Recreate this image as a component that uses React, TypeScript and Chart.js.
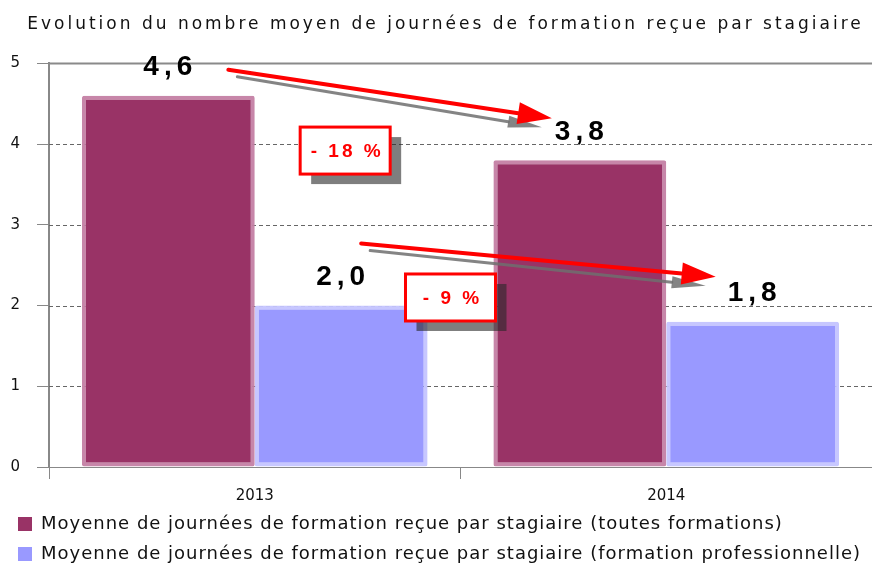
import React, { useEffect, useRef } from "react";
import { Chart, registerables } from "chart.js";

Chart.register(...registerables);

const TITLE = "Evolution du nombre moyen de journées de formation reçue par stagiaire";
const YEARS = ["2013", "2014"];
const SERIES_NAMES = [
  "Moyenne de journées de formation reçue par stagiaire (toutes formations)",
  "Moyenne de journées de formation reçue par stagiaire (formation professionnelle)",
];
const ALL_TRAINING = [4.6, 3.8];
const PRO_TRAINING = [2.0, 1.8];
const CHANGE_LABELS = ["- 18 %", "- 9 %"];
const Y_TICKS = [0, 1, 2, 3, 4, 5];

const FONT = "'DejaVu Sans', Verdana, sans-serif";
const BOLD = "'Liberation Sans', Arial, sans-serif";

const fmt = (v: number) => v.toFixed(1).replace(".", ",");

function drawArrow(
  ctx: CanvasRenderingContext2D,
  x1: number,
  y1: number,
  x2: number,
  y2: number,
  color: string,
  headW = 11,
  lw = 4
) {
  const ang = Math.atan2(y2 - y1, x2 - x1);
  const headLen = 34;
  const bx = x2 - headLen * Math.cos(ang);
  const by = y2 - headLen * Math.sin(ang);
  ctx.strokeStyle = color;
  ctx.fillStyle = color;
  ctx.lineWidth = lw;
  ctx.lineCap = "round";
  ctx.beginPath();
  ctx.moveTo(x1, y1);
  ctx.lineTo(bx, by);
  ctx.stroke();
  ctx.beginPath();
  ctx.moveTo(x2, y2);
  ctx.lineTo(bx + headW * Math.sin(ang), by - headW * Math.cos(ang));
  ctx.lineTo(bx - headW * Math.sin(ang), by + headW * Math.cos(ang));
  ctx.closePath();
  ctx.fill();
}

const annotPlugin = {
  id: "annot",
  beforeDatasetsDraw(chart: any) {
    const { ctx, chartArea, scales } = chart;
    const y = scales.y;
    ctx.save();
    y.ticks.forEach((t: any) => {
      if (t.value === 0) return;
      const py = Math.round(y.getPixelForValue(t.value)) + 0.5;
      const top = t.value === y.max;
      ctx.beginPath();
      ctx.lineWidth = top ? 2 : 1;
      ctx.strokeStyle = top ? "#8a8a8a" : "#666";
      ctx.setLineDash(top ? [] : [4, 3]);
      ctx.moveTo(chartArea.left, py);
      ctx.lineTo(chartArea.right, py);
      ctx.stroke();
    });
    ctx.restore();
  },
  afterDatasetsDraw(chart: any) {
    const { ctx, scales } = chart;
    const x = scales.x;
    const y = scales.y;
    ctx.save();
    const labelPos: { x: number; y: number }[][] = [];
    chart.data.datasets.forEach((ds: any, i: number) => {
      const meta = chart.getDatasetMeta(i);
      labelPos[i] = [];
      meta.data.forEach((bar: any, j: number) => {
        labelPos[i][j] = { x: bar.x, y: bar.y - 28 };
      });
    });
    const arrows = [
      { s: 0, a: [60, 2], b: [-28, -14] },
      { s: 1, a: [20, -34], b: [-37, -17] },
    ];
    arrows.forEach((ar) => {
      const p = labelPos[ar.s][0];
      const q = labelPos[ar.s][1];
      const x1 = p.x + ar.a[0], y1 = p.y + ar.a[1];
      const x2 = q.x + ar.b[0], y2 = q.y + ar.b[1];
      drawArrow(ctx, x1 + 9, y1 + 7, x2 - 10, y2 + 9, "rgba(110,110,110,0.85)", 6, 3);
      drawArrow(ctx, x1, y1, x2, y2, "#ff0000");
    });
    ctx.font = `bold 28px ${BOLD}`;
    (ctx as any).letterSpacing = "5px";
    ctx.textAlign = "center";
    ctx.textBaseline = "middle";
    ctx.fillStyle = "#000";
    chart.data.datasets.forEach((ds: any, i: number) => {
      ds.data.forEach((v: number, j: number) => {
        const p = labelPos[i][j];
        ctx.fillText(fmt(v), p.x + 2, p.y);
      });
    });
    const m0 = chart.getDatasetMeta(1).data[0];
    const boxes = [
      { text: CHANGE_LABELS[0], cx: m0.x + 4, cy: y.getPixelForValue(3.92) },
      { text: CHANGE_LABELS[1], cx: (x.getPixelForValue(0) + x.getPixelForValue(1)) / 2 - 10, cy: y.getPixelForValue(2.1) },
    ];
    ctx.font = `bold 19px ${BOLD}`;
    (ctx as any).letterSpacing = "3px";
    boxes.forEach((b) => {
      const w = 90;
      const h = 47;
      const lx = b.cx - w / 2;
      const ty = b.cy - h / 2;
      ctx.fillStyle = "rgba(40,40,40,0.6)";
      ctx.fillRect(lx + 11, ty + 10, w, h);
      ctx.fillStyle = "#fff";
      ctx.fillRect(lx, ty, w, h);
      ctx.strokeStyle = "#ff0000";
      ctx.lineWidth = 3;
      ctx.strokeRect(lx, ty, w, h);
      ctx.fillStyle = "#ff0000";
      ctx.fillText(b.text, b.cx + 2, b.cy + 1);
    });
    ctx.restore();
  },
};

export default function App() {
  const ref = useRef<HTMLCanvasElement | null>(null);
  useEffect(() => {
    if (!ref.current) return;
    const chart: any = new Chart(ref.current, {
      type: "bar",
      data: {
        labels: YEARS,
        datasets: [
          {
            label: SERIES_NAMES[0],
            data: ALL_TRAINING,
            backgroundColor: "#993366",
            borderColor: "rgba(196,128,164,0.95)",
            borderWidth: 4,
            borderSkipped: false,
            borderRadius: 2,
            categoryPercentage: 0.84,
            barPercentage: 1.0,
          },
          {
            label: SERIES_NAMES[1],
            data: PRO_TRAINING,
            backgroundColor: "#9999ff",
            borderColor: "rgba(196,196,255,0.95)",
            borderWidth: 4,
            borderSkipped: false,
            borderRadius: 2,
            categoryPercentage: 0.84,
            barPercentage: 1.0,
          },
        ],
      },
      options: {
        responsive: false,
        animation: false,
        layout: { padding: { left: 6, right: -3, top: 0, bottom: -10 } },
        plugins: {
          title: {
            display: true,
            text: TITLE,
            color: "#111",
            font: { family: FONT, size: 17, weight: "normal" },
            padding: { top: 13, bottom: 30 },
          },
          legend: {
            position: "bottom",
            align: "start",
            labels: {
              color: "#111",
              font: { family: FONT, size: 18 },
              boxWidth: 14,
              boxHeight: 14,
              padding: 12,
              generateLabels: (c: any) =>
                Chart.defaults.plugins.legend.labels
                  .generateLabels(c)
                  .map((l: any) => ({ ...l, lineWidth: 0 })),
            },
          },
          tooltip: { enabled: false },
        },
        scales: {
          x: {
            afterFit: (s: any) => {
              s.height = 38;
            },
            grid: { drawOnChartArea: false, drawTicks: true, tickLength: 12, color: "#888", offset: true },
            border: { color: "#888", width: 1 },
            ticks: { color: "#111", font: { family: FONT, size: 15 }, padding: 8 },
          },
          y: {
            min: 0,
            max: 5,
            afterFit: (s: any) => {
              s.width = 43;
            },
            afterBuildTicks: (s: any) => {
              s.ticks = Y_TICKS.map((v) => ({ value: v }));
            },
            grid: { drawOnChartArea: false, drawTicks: true, tickLength: 12, color: "#888" },
            border: { color: "#888", width: 2 },
            ticks: { color: "#111", font: { family: FONT, size: 15 }, padding: 17 },
          },
        },
      },
      plugins: [annotPlugin],
    });
    const patch = (box: any, fn: (ctx: any) => void) => {
      if (!box) return;
      const orig = box.draw.bind(box);
      box.draw = (...args: any[]) => {
        const ctx = chart.ctx;
        ctx.save();
        fn(ctx);
        orig(...args);
        ctx.restore();
      };
    };
    patch(chart.titleBlock, (ctx) => {
      ctx.letterSpacing = "3px";
      ctx.translate(5, 1);
    });
    patch(chart.legend, (ctx) => {
      ctx.letterSpacing = "1px";
      ctx.translate(0, -2);
    });
    chart.draw();
    return () => chart.destroy();
  }, []);
  return (
    <div style={{ position: "absolute", left: 0, top: 0, width: 872, height: 565 }}>
      <canvas ref={ref} width={872} height={565} />
    </div>
  );
}
